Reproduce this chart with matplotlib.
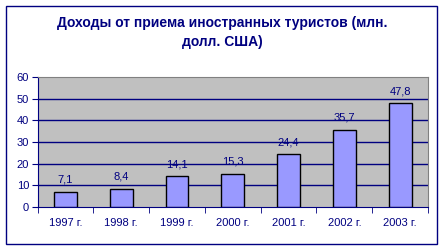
import numpy as np
import matplotlib
matplotlib.use("Agg")
import matplotlib.pyplot as plt
from matplotlib.patches import Rectangle

years = ["1997 г.", "1998 г.", "1999 г.", "2000 г.", "2001 г.", "2002 г.", "2003 г."]
income = [7.1, 8.4, 14.1, 15.3, 24.4, 35.7, 47.8]
labels = ["7,1", "8,4", "14,1", "15,3", "24,4", "35,7", "47,8"]
yticks = [0, 10, 20, 30, 40, 50, 60]

navy = "#000080"
plt.rcParams["font.family"] = ["Liberation Sans", "DejaVu Sans"]

fig = plt.figure(figsize=(4.44, 2.5), dpi=100)
fig.patch.set_facecolor("white")

# outer frame
fig.add_artist(Rectangle((5.5 / 444, 6 / 250), 431 / 444, 238.5 / 250,
                         transform=fig.transFigure, fill=False,
                         edgecolor=navy, linewidth=1.0))

ax = fig.add_axes([37.5 / 444, 43 / 250, 390.5 / 444, 130 / 250])
ax.set_facecolor("#C0C0C0")

x = np.arange(len(years))
ax.bar(x, income, width=0.41, color="#9999FF", edgecolor="black", linewidth=1.0, zorder=3)

for xi, v, lab in zip(x, income, labels):
    ax.annotate(lab, (xi, v), xytext=(0, 5), textcoords="offset points",
                ha="center", va="bottom", color=navy, fontsize=8)

ax.set_xlim(-0.5, len(years) - 0.5)
ax.set_ylim(0, 60)
ax.set_yticks(yticks)
ax.set_yticklabels([str(t) for t in yticks], fontsize=8, color=navy)
for t in yticks[1:-1]:
    ax.axhline(t, color=navy, linewidth=1.0, zorder=1)

ax.set_xticks(x)
ax.set_xticklabels(years, fontsize=8, color=navy)
ax.set_xticks(np.arange(-0.5, len(years)), minor=True)
ax.tick_params(axis="x", which="major", length=0, pad=8)
ax.tick_params(axis="x", which="minor", length=4, direction="out", color=navy)
ax.tick_params(axis="y", length=4, direction="out", color=navy, pad=2)

ax.spines["left"].set_color(navy)
ax.spines["bottom"].set_color(navy)
ax.spines["top"].set_color("#808080")
ax.spines["right"].set_color("#808080")

fig.text(0.5, 1 - 23 / 250, "Доходы от приема иностранных туристов (млн.",
         ha="center", va="center", fontsize=10, fontweight="bold", color=navy)
fig.text(0.5, 1 - 42 / 250, "долл. США)",
         ha="center", va="center", fontsize=10, fontweight="bold", color=navy)

fig.savefig("out.png", dpi=100)
